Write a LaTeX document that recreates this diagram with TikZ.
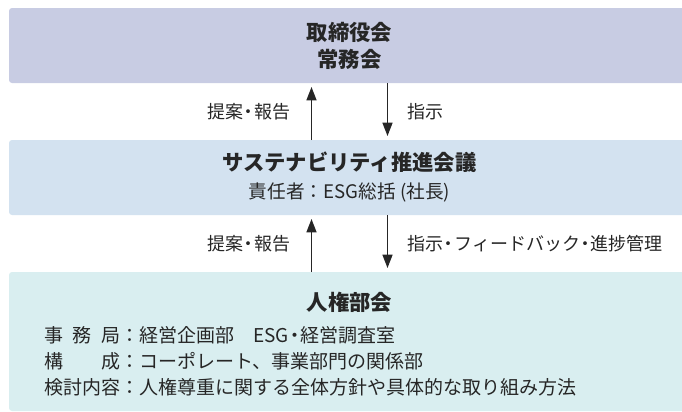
\documentclass[tikz,border=0pt]{standalone}
\usepackage{fontspec}
\setmainfont{Noto Sans CJK JP}
\usetikzlibrary{positioning,arrows.meta}
\definecolor{board-bg}{HTML}{C8CCE3}
\definecolor{council-bg}{HTML}{D3E2F0}
\definecolor{rights-bg}{HTML}{D9EEF0}
\definecolor{ink}{HTML}{262626}
\newcommand{\ndot}{\makebox[0.6em]{・}}

\begin{document}
\begin{tikzpicture}[x=0.75pt,y=-0.75pt,
  box/.style={rounded corners=2.25pt,minimum width=510.75pt,
    minimum height=56.25pt,outer sep=0pt,inner sep=0pt,align=center},
  flow/.style={draw=ink,line width=1.1pt,shorten >=3pt,
    -{Triangle[length=10pt,width=7.5pt]}},
  tag/.style={inner sep=0pt,font=\fontsize{13.5}{16}\selectfont},
  % inner sep=2pt,
  node distance=42.75pt,
  text=ink]
\useasboundingbox (0,0) rectangle (682,411);
\node (board) [box,fill=board-bg,font=\fontsize{16}{20.25}\selectfont\bfseries]
  at (349.5,45.5) {取締役会\\常務会};
\node (council) [box,fill=council-bg,below=of board,
  font=\fontsize{16}{21}\selectfont]
  {{\bfseries サステナビリティ推進会議}\\
   {\fontsize{14}{21}\selectfont 責任者：ESG総括 (社長)}};
\node (rights) [box,fill=rights-bg,minimum height=104.25pt,below=of council] {};
\node (rights-title) [font=\fontsize{16}{20}\selectfont\bfseries]
  at ([yshift=-22.5pt]rights.north) {人権部会};
\node (rights-body) [anchor=west,align=left,inner sep=0pt,
  font=\fontsize{14.25}{19.5}\selectfont]
  at ([xshift=26.25pt,yshift=-15pt]rights.west)
  {\makebox[4em]{事\hfill 務\hfill 局}：経営企画部　ESG\ndot 経営調査室\\
   \makebox[4em]{構\hfill 成}：コーポレート、事業部門の関係部\\
   検討内容：人権尊重に関する全体方針や具体的な取り組み方法};
\draw [flow] ([xshift=-28.5pt]council.north) -- ([xshift=-28.5pt]board.south)
  node (report-up) [tag,midway,left=15.5pt] {提案\ndot 報告};
\draw [flow] ([xshift=28.5pt]board.south) -- ([xshift=28.5pt]council.north)
  node (order-down) [tag,midway,right=14.5pt] {指示};
\draw [flow] ([xshift=-28.5pt]rights.north) -- ([xshift=-28.5pt]council.south)
  node (report-low) [tag,midway,left=15.5pt] {提案\ndot 報告};
\draw [flow] ([xshift=28.5pt]council.south) -- ([xshift=28.5pt]rights.north)
  node (order-low) [tag,midway,right=14.5pt]
  {指示\ndot フィードバック\ndot 進捗管理};
\end{tikzpicture}
\end{document}
